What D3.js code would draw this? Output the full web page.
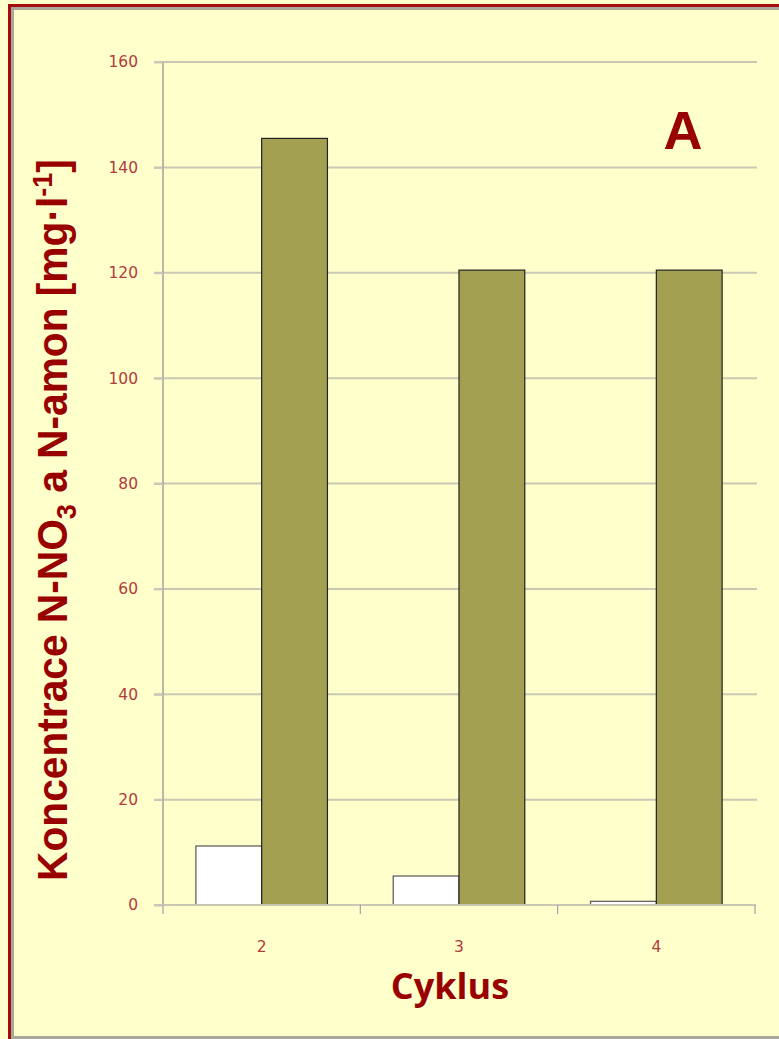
<!DOCTYPE html>
<html lang="cs">
<head>
<meta charset="UTF-8">
<title>Cyklus</title>
<style>
  body { margin: 0; background: #FFFFCC; }
  svg { display: block; }
</style>
</head>
<body>
<svg id="chart" width="779" height="1039"></svg>
<script src="https://d3js.org/d3.v7.min.js"></script>
<script>
// data
var cycles = ["2", "3", "4"];
var seriesNames = ["N-NO3", "N-amon"];
var no3Values = [11.2, 5.5, 0.7];
var amonValues = [145.5, 120.5, 120.5];
var yTicks = [0, 20, 40, 60, 80, 100, 120, 140, 160];

var svg = d3.select("#chart");
var W = 779, H = 1039;

// background + frame
svg.append("rect").attr("width", W).attr("height", H).attr("fill", "#FFFFCC");
svg.append("rect")
  .attr("x", 12.5).attr("y", 8.5).attr("width", W + 20).attr("height", 1029)
  .attr("fill", "none").attr("stroke", "#A8A89A").attr("stroke-width", 3);
svg.append("rect")
  .attr("x", 9.5).attr("y", 5.5).attr("width", W + 20).attr("height", 1100)
  .attr("fill", "none").attr("stroke", "#A50C0C").attr("stroke-width", 3);

var plot = { left: 163, right: 755, top: 62, bottom: 905 };

var y = d3.scaleLinear().domain([0, 160]).range([plot.bottom, plot.top]);
var x0 = d3.scaleBand().domain(cycles).range([plot.left, plot.right]).padding(0);
var x1 = d3.scaleBand().domain(seriesNames).range([0, x0.bandwidth()])
  .paddingInner(0).paddingOuter(0.5);

var tickColor = "#B23B3B";

// gridlines
svg.append("g").selectAll("line").data(yTicks.filter(function (d) { return d > 0; }))
  .enter().append("line")
  .attr("x1", plot.left - 9).attr("x2", plot.right + 2)
  .attr("y1", function (d) { return y(d); }).attr("y2", function (d) { return y(d); })
  .attr("stroke", "#C8C8B4").attr("stroke-width", 2);

// y axis
var yAxis = svg.append("g")
  .attr("transform", "translate(" + plot.left + ",0)")
  .call(d3.axisLeft(y).tickValues(yTicks).tickSize(9).tickPadding(16));
yAxis.select(".domain").attr("stroke", "#A0A0A0").attr("stroke-width", 1.5)
  .attr("d", "M0," + y(160) + "V" + plot.bottom);
yAxis.selectAll(".tick line").attr("stroke", "#C8C8B4").attr("stroke-width", 2);
yAxis.selectAll(".tick text")
  .attr("fill", tickColor).style("font-family", "DejaVu Sans, Verdana, sans-serif")
  .style("font-size", "15.5px");

// bars
var rows = cycles.map(function (c, i) {
  return { cycle: c, values: [no3Values[i], amonValues[i]] };
});
var barColors = ["#FFFFFF", "#A3A052"];

var groups = svg.append("g").selectAll("g").data(rows).enter().append("g")
  .attr("transform", function (d) { return "translate(" + x0(d.cycle) + ",0)"; });
groups.selectAll("rect")
  .data(function (d) { return d.values.map(function (v, k) { return { key: seriesNames[k], value: v, k: k }; }); })
  .enter().append("rect")
  .attr("x", function (d) { return x1(d.key); })
  .attr("y", function (d) { return y(d.value); })
  .attr("width", x1.bandwidth())
  .attr("height", function (d) { return plot.bottom - y(d.value); })
  .attr("fill", function (d) { return barColors[d.k]; })
  .attr("stroke", function (d) { return d.k === 0 ? "#555555" : "#222222"; })
  .attr("stroke-width", 1.2);

// x axis
var xAxis = svg.append("g")
  .attr("transform", "translate(0," + plot.bottom + ")")
  .call(d3.axisBottom(x0).tickSize(0).tickPadding(36));
xAxis.select(".domain").remove();
svg.append("line")
  .attr("x1", plot.left - 9).attr("x2", plot.right + 1)
  .attr("y1", plot.bottom).attr("y2", plot.bottom)
  .attr("stroke", "#C8C8B4").attr("stroke-width", 2);
svg.append("g").selectAll("line")
  .data(cycles.map(function (c) { return x0(c); }).concat([plot.right]))
  .enter().append("line")
  .attr("x1", function (d) { return d; }).attr("x2", function (d) { return d; })
  .attr("y1", plot.bottom).attr("y2", plot.bottom + 9)
  .attr("stroke", "#A0A0A0").attr("stroke-width", 1.2);
xAxis.selectAll(".tick text")
  .attr("fill", tickColor).style("font-family", "DejaVu Sans, Verdana, sans-serif")
  .style("font-size", "15.5px");

// titles
svg.append("text")
  .attr("x", (plot.left + plot.right) / 2 - 9).attr("y", 999)
  .attr("text-anchor", "middle")
  .attr("fill", "#990000")
  .style("font-family", "Open Sans, sans-serif").style("font-weight", "bold")
  .style("font-size", "36px")
  .text("Cyklus");

// y title: condensed look, squeezed along the text direction to fit
var yTitleG = svg.append("g").attr("transform", "translate(67,520) rotate(-90)");
var yTitle = yTitleG.append("text")
  .attr("text-anchor", "middle")
  .attr("fill", "#990000")
  .style("font-family", "Liberation Sans, Arial, sans-serif").style("font-weight", "bold")
  .style("font-size", "42px");
yTitle.append("tspan").text("Koncentrace N-NO");
yTitle.append("tspan").attr("dy", 9).style("font-size", "28px").text("3");
yTitle.append("tspan").attr("dy", -9).text(" a N-amon [mg·l");
yTitle.append("tspan").attr("dy", -15).style("font-size", "28px").text("-1");
yTitle.append("tspan").attr("dy", 15).text("]");
var len = yTitle.node().getBBox().width;
yTitle.attr("transform", "scale(" + (722 / len) + ",1)");

svg.append("text")
  .attr("x", 683).attr("y", 149)
  .attr("text-anchor", "middle")
  .attr("fill", "#990000")
  .style("font-family", "Liberation Sans, Arial, sans-serif").style("font-weight", "bold")
  .style("font-size", "54px")
  .text("A");
</script>
</body>
</html>
